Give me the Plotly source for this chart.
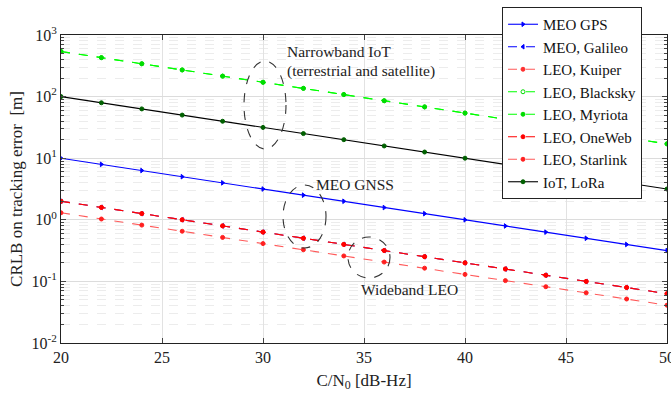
import plotly.graph_objects as go

cn0 = [20, 22, 24, 26, 28, 30, 32, 34, 36, 38, 40, 42, 44, 46, 48, 50]

meo_gps = [10, 7.94, 6.31, 5.01, 3.98, 3.16, 2.51, 2.00, 1.58, 1.26, 1.00, 0.794, 0.631, 0.501, 0.398, 0.316]
meo_galileo = [2.0, 1.59, 1.26, 1.00, 0.796, 0.632, 0.502, 0.399, 0.317, 0.252, 0.200, 0.159, 0.126, 0.100, 0.0796, 0.0632]
leo_kuiper = [2.0, 1.59, 1.26, 1.00, 0.796, 0.632, 0.502, 0.399, 0.317, 0.252, 0.200, 0.159, 0.126, 0.100, 0.0796, 0.0632]
leo_blacksky = [540, 429, 341, 271, 215, 171, 136, 108, 85.6, 68.0, 54.0, 42.9, 34.1, 27.1, 21.5, 17.1]
leo_myriota = [540, 429, 341, 271, 215, 171, 136, 108, 85.6, 68.0, 54.0, 42.9, 34.1, 27.1, 21.5, 17.1]
leo_oneweb = [2.0, 1.59, 1.26, 1.00, 0.796, 0.632, 0.502, 0.399, 0.317, 0.252, 0.200, 0.159, 0.126, 0.100, 0.0796, 0.0632]
leo_starlink = [1.3, 1.03, 0.820, 0.652, 0.518, 0.411, 0.327, 0.259, 0.206, 0.164, 0.130, 0.103, 0.0820, 0.0652, 0.0518, 0.0411]
iot_lora = [100, 79.4, 63.1, 50.1, 39.8, 31.6, 25.1, 20.0, 15.8, 12.6, 10.0, 7.94, 6.31, 5.01, 3.98, 3.16]

x_ticks = [20, 25, 30, 35, 40, 45, 50]
y_ticks = [0.01, 0.1, 1, 10, 100, 1000]
y_ticktext = ["10<sup>-2</sup>", "10<sup>-1</sup>", "10<sup>0</sup>", "10<sup>1</sup>", "10<sup>2</sup>", "10<sup>3</sup>"]
y_minor = [m * d for d in [0.01, 0.1, 1, 10, 100] for m in range(2, 10)]

FONT = "Liberation Serif"

series = [
    ("MEO GPS", meo_gps, "#0000ff", "solid", "triangle-right", "#0000ff"),
    ("MEO, Galileo", meo_galileo, "#0000ff", "dash", "triangle-left", "#0000ff"),
    ("LEO, Kuiper", leo_kuiper, "#ff5a5a", "dash", "circle", "#ff3030"),
    ("LEO, Blacksky", leo_blacksky, "#00ff00", "dash", "circle-open", "#00dd00"),
    ("LEO, Myriota", leo_myriota, "#00ff00", "dash", "circle", "#00dd00"),
    ("LEO, OneWeb", leo_oneweb, "#ff0000", "dash", "circle", "#ff0000"),
    ("LEO, Starlink", leo_starlink, "#ff5a5a", "dash", "circle", "#ff2020"),
    ("IoT, LoRa", iot_lora, "#000000", "solid", "circle", "#006000"),
]

fig = go.Figure()
for name, ys, col, dash, sym, mcol in series:
    fig.add_trace(go.Scatter(
        x=cn0, y=ys, name=name, mode="lines+markers",
        line=dict(color=col, width=1.1, dash=dash),
        marker=dict(symbol=sym, size=4, color=mcol, line=dict(width=1, color=mcol)),
    ))

shapes = []
for (x0, x1, y0, y1) in [(244, 286, 61, 149), (283, 326, 185, 248), (348, 390, 237, 278)]:
    shapes.append(dict(type="circle", xref="paper", yref="paper",
                       x0=(x0 - 61) / 606, x1=(x1 - 61) / 606,
                       y0=(343 - y1) / 308, y1=(343 - y0) / 308,
                       line=dict(color="#333333", width=1.1, dash="dash")))

ann_font = dict(family=FONT, size=15.5, color="#222222")
annotations = [
    dict(text="Narrowband IoT", x=(285 - 61) / 606, y=(343 - 51) / 308, xref="paper", yref="paper",
         xanchor="left", yanchor="middle", showarrow=False, font=ann_font),
    dict(text="(terrestrial and satellite)", x=(285 - 61) / 606, y=(343 - 71) / 308, xref="paper", yref="paper",
         xanchor="left", yanchor="middle", showarrow=False, font=ann_font),
    dict(text="MEO GNSS", x=(355 - 61) / 606, y=(343 - 184) / 308, xref="paper", yref="paper",
         xanchor="center", yanchor="middle", showarrow=False, font=ann_font),
    dict(text="Wideband LEO", x=(359 - 61) / 606, y=(343 - 289) / 308, xref="paper", yref="paper",
         xanchor="left", yanchor="middle", showarrow=False, font=ann_font),
]

fig.update_layout(
    width=671, height=398,
    margin=dict(l=61, r=4, t=35, b=55, autoexpand=False),
    paper_bgcolor="white", plot_bgcolor="white",
    font=dict(family=FONT, size=15, color="#222222"),
    shapes=shapes, annotations=annotations,
    legend=dict(x=(642 - 61) / 606, y=(343 - 7) / 308, xanchor="right", yanchor="top",
                bgcolor="white", bordercolor="#222222", borderwidth=1,
                font=dict(family=FONT, size=15, color="#111111"),
                itemwidth=30, tracegroupgap=0),
    showlegend=True,
)

fig.update_xaxes(
    range=[20, 50], tickvals=x_ticks, ticks="inside", ticklen=5,
    showline=True, linecolor="#222222", linewidth=1, mirror="allticks",
    showgrid=True, gridcolor="#e2e2e2", gridwidth=1, zeroline=False,
    ticklabeloverflow="allow", automargin=False,
    title=dict(text="C/N<sub>0</sub> [dB-Hz]", font=dict(family=FONT, size=17), standoff=8),
    tickfont=dict(family=FONT, size=16),
)
fig.update_yaxes(
    type="log", range=[-2, 3], tickvals=y_ticks, ticktext=y_ticktext,
    ticks="inside", ticklen=5, automargin=False,
    showline=True, linecolor="#222222", linewidth=1, mirror="allticks",
    showgrid=True, gridcolor="#dcdcdc", gridwidth=1, zeroline=False,
    minor=dict(tickvals=y_minor, ticks="inside", ticklen=3, showgrid=True,
               gridcolor="#ececec", griddash="dash", gridwidth=1),
    title=dict(text="CRLB on tracking error  [m]", font=dict(family=FONT, size=17), standoff=4),
    tickfont=dict(family=FONT, size=16),
)

fig.write_html("out.html")
